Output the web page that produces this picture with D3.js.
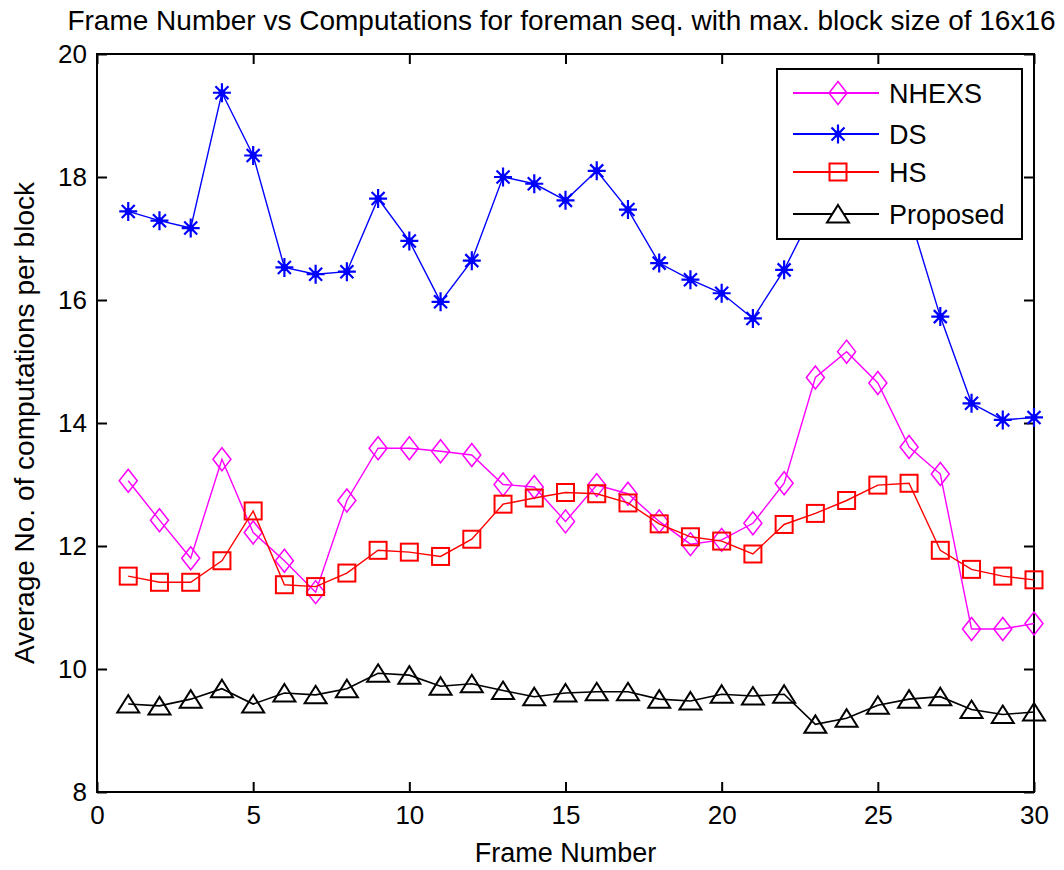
<!DOCTYPE html>
<html><head><meta charset="utf-8">
<script src="https://cdn.jsdelivr.net/npm/d3@7"></script>
<style>
body{margin:0;background:#fff}
svg{display:block}
text{font-family:"Liberation Sans",Arial,Helvetica,sans-serif;fill:#000}
</style>
</head><body>
<svg id="c" width="1064" height="870"></svg>
<script>
// ---- data ----
const frames = [1,2,3,4,5,6,7,8,9,10,11,12,13,14,15,16,17,18,19,20,21,22,23,24,25,26,27,28,29,30];
const nhexs = [13.06,12.42,11.80,13.41,12.22,11.76,11.25,12.74,13.59,13.59,13.54,13.48,13.00,12.96,12.40,12.99,12.85,12.40,12.03,12.10,12.37,13.02,14.74,15.16,14.65,13.61,13.17,10.65,10.65,10.74];
const ds    = [17.44,17.29,17.17,19.37,18.35,16.53,16.42,16.46,17.65,16.96,15.97,16.64,18.00,17.89,17.62,18.10,17.47,16.60,16.33,16.11,15.70,16.49,17.50,18.30,18.60,17.40,15.73,14.32,14.05,14.09];
const hs    = [11.51,11.41,11.41,11.76,12.57,11.37,11.34,11.56,11.93,11.90,11.83,12.11,12.68,12.78,12.87,12.85,12.70,12.36,12.15,12.08,11.87,12.35,12.53,12.74,12.99,13.02,11.93,11.62,11.51,11.45];
const proposed = [9.43,9.40,9.51,9.68,9.43,9.61,9.58,9.68,9.93,9.90,9.72,9.76,9.65,9.55,9.61,9.63,9.63,9.51,9.48,9.59,9.56,9.59,9.10,9.20,9.41,9.51,9.55,9.34,9.26,9.30];
const seriesNames = ["NHEXS","DS","HS","Proposed"];
const seriesColors = ["#ff00ff","#0000ff","#ff0000","#000000"];
const xTicks = [0,5,10,15,20,25,30];
const yTicks = [8,10,12,14,16,18,20];
const titleText = "Frame Number vs Computations for foreman seq. with max. block size of 16x16";
const xLabel = "Frame Number";
const yLabel = "Average No. of computations per block";

// ---- layout ----
const L = 97, R = 1034, T = 54, B = 792;
const svg = d3.select("#c");
const x = d3.scaleLinear().domain([0,30]).range([L,R]);
const y = d3.scaleLinear().domain([8,20]).range([B,T]);

svg.append("rect").attr("width",1064).attr("height",870).attr("fill","#fff");

// axes (ticks inward)
const tl = 10;
const gx = svg.append("g").attr("transform",`translate(0,${B})`)
  .call(d3.axisBottom(x).tickValues(xTicks).tickSizeInner(-tl).tickSizeOuter(0).tickPadding(14).tickFormat(d3.format("d")));
const gxt = svg.append("g").attr("transform",`translate(0,${T})`)
  .call(d3.axisTop(x).tickValues(xTicks).tickSizeInner(-tl).tickSizeOuter(0).tickFormat(""));
const gy = svg.append("g").attr("transform",`translate(${L},0)`)
  .call(d3.axisLeft(y).tickValues(yTicks).tickSizeInner(-tl).tickSizeOuter(0).tickPadding(10).tickFormat(d3.format("d")));
const gyr = svg.append("g").attr("transform",`translate(${R},0)`)
  .call(d3.axisRight(y).tickValues(yTicks).tickSizeInner(-tl).tickSizeOuter(0).tickFormat(""));
[gx,gxt,gy,gyr].forEach(g=>{
  g.select(".domain").remove();
  g.selectAll(".tick line").attr("stroke","#000").attr("stroke-width",2);
  g.selectAll("text").attr("font-size",26).attr("font-family","'Liberation Sans',Arial,sans-serif").attr("fill","#000");
});
gx.selectAll("text").attr("dy","0.71em");
svg.append("rect").attr("x",L).attr("y",T).attr("width",R-L).attr("height",B-T)
  .attr("fill","none").attr("stroke","#000").attr("stroke-width",2);

// title and labels
svg.append("text").attr("x",(L+R)/2-4).attr("y",30).attr("text-anchor","middle")
  .attr("font-size",28).text(titleText);
svg.append("text").attr("x",(L+R)/2).attr("y",862).attr("text-anchor","middle")
  .attr("font-size",27).text(xLabel);
svg.append("text").attr("transform",`translate(34,${(T+B)/2}) rotate(-90)`).attr("text-anchor","middle")
  .attr("font-size",28).text(yLabel);

// markers
function drawMarker(g, kind, color){
  if(kind==="diamond"){
    g.append("path").attr("d","M0,-11.5L9,0L0,11.5L-9,0Z").attr("fill","none").attr("stroke",color).attr("stroke-width",1.5);
  } else if(kind==="star"){
    g.append("path").attr("d","M-9,0H9M0,-9.5V9.5M-6.5,-6.5L6.5,6.5M-6.5,6.5L6.5,-6.5")
      .attr("stroke",color).attr("stroke-width",2.2).attr("fill","none");
    g.append("circle").attr("r",3.5).attr("fill",color);
  } else if(kind==="square"){
    g.append("rect").attr("x",-8.5).attr("y",-8.5).attr("width",17).attr("height",17)
      .attr("fill","none").attr("stroke",color).attr("stroke-width",2);
  } else {
    g.append("path").attr("d","M0,-9L11,8.5L-11,8.5Z").attr("fill","none").attr("stroke",color).attr("stroke-width",2);
  }
}
const kinds = ["diamond","star","square","triangle"];
const allSeries = [nhexs, ds, hs, proposed];
const line = d3.line().x((d,i)=>x(frames[i])).y(d=>y(d));
allSeries.forEach((vals,si)=>{
  const col = seriesColors[si];
  svg.append("path").datum(vals).attr("d",line).attr("fill","none")
    .attr("stroke",col).attr("stroke-width",si===3?1.6:1.4);
  vals.forEach((v,i)=>{
    const g = svg.append("g").attr("transform",`translate(${x(frames[i])},${y(v)})`);
    drawMarker(g, kinds[si], col);
  });
});

// legend
const lg = svg.append("g");
lg.append("rect").attr("x",777).attr("y",69).attr("width",245).attr("height",170)
  .attr("fill","#fff").attr("stroke","#000").attr("stroke-width",2);
const legY = [93,134,172,214];
seriesNames.forEach((name,si)=>{
  const yy = legY[si];
  lg.append("line").attr("x1",793).attr("x2",879).attr("y1",yy).attr("y2",yy)
    .attr("stroke",seriesColors[si]).attr("stroke-width",2);
  const g = lg.append("g").attr("transform",`translate(838,${yy})`);
  drawMarker(g, kinds[si], seriesColors[si]);
  if(si===3) g.select("path").attr("fill","#fff");
  lg.append("text").attr("x",889).attr("y",yy).attr("dy","0.36em").attr("font-size",27).text(name);
});
</script>
</body></html>
